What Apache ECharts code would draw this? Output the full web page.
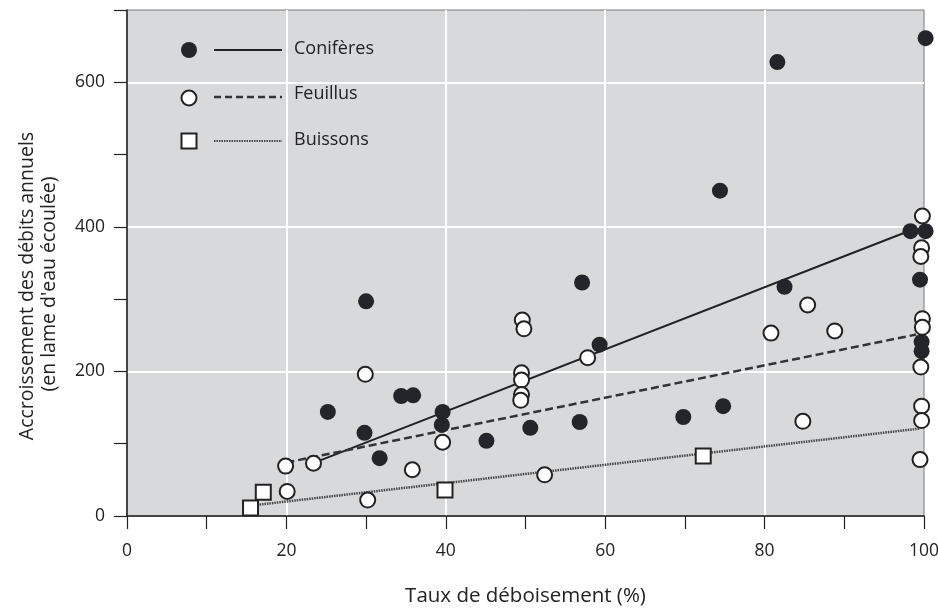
<!DOCTYPE html>
<html>
<head>
<meta charset="utf-8">
<script src="https://cdn.jsdelivr.net/npm/echarts@6/dist/echarts.min.js"></script>
<style>html,body{margin:0;padding:0;background:#fff}#c{width:938px;height:608px}</style>
</head>
<body>
<div id="c"></div>
<script>
// ---- Data ----
var xTitle = 'Taux de déboisement (%)';
var yTitleLines = ['Accroissement des débits annuels', "(en lame d'eau écoulée)"];
var seriesNames = ['Conifères', 'Feuillus', 'Buissons'];

var coniferes = [
  [30,297],[34.4,166],[35.9,167],[25.2,144],[39.6,144],[39.5,126],[29.8,115],[31.7,80],
  [57.1,323],[59.3,237],[69.8,137],[56.8,130],[50.6,122],[45.1,104],[74.4,450],[74.8,152],
  [82.5,317],[98.3,394],[100.2,394],[99.5,327],[99.7,241],[99.7,228],[100.2,661],[81.6,628]
];
var feuillus = [
  [29.9,196],[39.6,102],[19.9,69],[23.4,73],[35.8,64],[20.1,34],[30.2,22],[49.6,271],
  [49.8,259],[57.8,219],[49.5,198],[49.5,188],[49.5,168],[49.4,160],[52.4,57],[99.8,415],
  [99.7,371],[99.6,359],[85.4,292],[99.8,273],[99.8,261],[80.8,253],[88.8,256],[99.6,206],
  [84.8,131],[99.7,152],[99.7,132],[99.5,78]
];
var buissons = [[15.5,11],[17.1,33],[39.9,36],[72.3,83]];

var coniferesTrend = [[24,76],[99,398]];
var feuillusTrend = [[20,74],[99,251]];
var buissonsTrend = [[16,15],[99.5,121]];

var yLabelValues = [0,200,400,600];
var xLabelValues = [0,20,40,60,80,100];

// ---- Chart ----
var ink = '#222';
var font = '"Open Sans", "Noto Sans", sans-serif';
var chart = echarts.init(document.getElementById('c'), null, {renderer:'canvas'});

var option = {
  animation: false,
  backgroundColor: '#fff',
  grid: {left:127, right:14, top:10, bottom:92, outerBoundsMode:'none', containLabel:false,
         show:true, backgroundColor:'#d8d9db', borderColor:'#7a7a7a', borderWidth:1},
  xAxis: [
    {type:'value', min:0, max:100, interval:10,
     name:xTitle, nameLocation:'middle', nameGap:70,
     nameTextStyle:{fontFamily:font, fontSize:20.5, color:ink},
     axisLine:{show:true, onZero:false, lineStyle:{color:ink, width:1.5}},
     axisTick:{show:true, inside:false, length:13, lineStyle:{color:ink, width:1.2}},
     axisLabel:{margin:26, fontFamily:font, fontSize:17.5, color:ink,
       formatter:function(v){return xLabelValues.indexOf(v)>=0 ? String(v) : '';}},
     splitLine:{show:false}},
    {type:'value', min:0, max:100, interval:20, show:true,
     axisLine:{show:false}, axisTick:{show:false}, axisLabel:{show:false},
     splitLine:{show:true, showMinLine:false, showMaxLine:false, lineStyle:{color:'#ffffff', width:2}}}
  ],
  yAxis: [
    {type:'value', min:0, max:700, interval:100,
     axisLine:{show:true, onZero:false, lineStyle:{color:ink, width:1.5}},
     axisTick:{show:true, inside:false, length:13, lineStyle:{color:ink, width:1.2}},
     axisLabel:{margin:22, fontFamily:font, fontSize:17.5, color:ink,
       formatter:function(v){return yLabelValues.indexOf(v)>=0 ? String(v) : '';}},
     splitLine:{show:false}},
    {type:'value', min:0, max:700, interval:200, show:true,
     axisLine:{show:false}, axisTick:{show:false}, axisLabel:{show:false},
     splitLine:{show:true, showMinLine:false, showMaxLine:false, lineStyle:{color:'#ffffff', width:2}}}
  ],
  series: [
    {name:seriesNames[0]+' tendance', type:'line', data:coniferesTrend, symbol:'none', z:3,
     lineStyle:{color:ink, width:2, type:'solid'}},
    {name:seriesNames[1]+' tendance', type:'line', data:feuillusTrend, symbol:'none', z:3,
     lineStyle:{color:'#333', width:2.5, type:[8,4]}},
    {name:seriesNames[2]+' tendance', type:'line', data:buissonsTrend, symbol:'none', z:3,
     lineStyle:{color:'#444', width:2.5, type:[1.5,1]}},
    {name:seriesNames[0], type:'scatter', data:coniferes, symbol:'circle', symbolSize:16, clip:false, z:5,
     itemStyle:{color:'#23252a', borderWidth:0, opacity:1}},
    {name:seriesNames[1], type:'scatter', data:feuillus, symbol:'circle', symbolSize:15, clip:false, z:6,
     itemStyle:{color:'#ffffff', borderColor:ink, borderWidth:2, opacity:1}},
    {name:seriesNames[2], type:'scatter', data:buissons, symbol:'rect', symbolSize:15, clip:false, z:6,
     itemStyle:{color:'#ffffff', borderColor:ink, borderWidth:2, opacity:1}}
  ],
  graphic: [
    {type:'text', x:27, y:286, rotation:Math.PI/2,
     style:{text:yTitleLines[0], font:'19.5px '+font, fill:ink, align:'center', verticalAlign:'middle'}, z:10},
    {type:'text', x:49, y:284, rotation:Math.PI/2,
     style:{text:yTitleLines[1], font:'19.5px '+font, fill:ink, align:'center', verticalAlign:'middle'}, z:10},
    {type:'circle', shape:{cx:189, cy:50, r:8}, style:{fill:'#23252a'}, z:10},
    {type:'line', shape:{x1:214, y1:50, x2:282, y2:50}, style:{stroke:ink, lineWidth:2}, z:10},
    {type:'text', x:294, y:49, style:{text:seriesNames[0], font:'18px '+font, fill:ink, verticalAlign:'middle'}, z:10},
    {type:'circle', shape:{cx:189, cy:98, r:7.5}, style:{fill:'#fff', stroke:ink, lineWidth:2}, z:10},
    {type:'line', shape:{x1:214, y1:97, x2:282, y2:97}, style:{stroke:'#333', lineWidth:2.5, lineDash:[7,4]}, z:10},
    {type:'text', x:294, y:94, style:{text:seriesNames[1], font:'18px '+font, fill:ink, verticalAlign:'middle'}, z:10},
    {type:'rect', shape:{x:181.5, y:133.5, width:15, height:15}, style:{fill:'#fff', stroke:ink, lineWidth:2}, z:10},
    {type:'line', shape:{x1:214, y1:141, x2:282, y2:141}, style:{stroke:'#444', lineWidth:2, lineDash:[1.5,1]}, z:10},
    {type:'text', x:294, y:140, style:{text:seriesNames[2], font:'18px '+font, fill:ink, verticalAlign:'middle'}, z:10}
  ]
};
chart.setOption(option);
</script>
</body>
</html>
